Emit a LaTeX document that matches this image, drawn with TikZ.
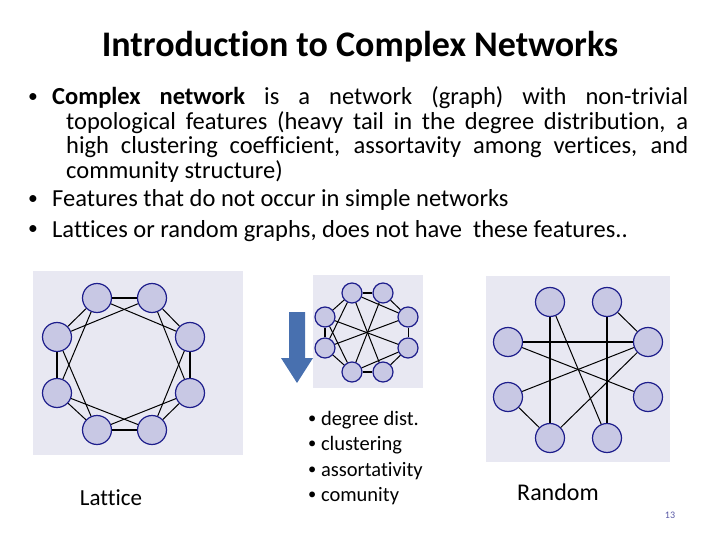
\documentclass[tikz,border=0pt]{standalone}
\usepackage{fontspec}
\setmainfont[Ligatures=NoCommon]{Carlito}
\definecolor{panel}{RGB}{232,232,242}
\definecolor{vfill}{RGB}{200,200,228}
\definecolor{vdraw}{RGB}{30,30,140}
\definecolor{arrowblue}{RGB}{72,112,175}
\tikzset{
    vtx/.style ={
        shape=circle,
        draw=vdraw,
        fill=vfill,
        line width=1.2pt,
        inner sep=0pt
    },
    big/.style ={vtx,minimum size=29pt},
    small/.style ={vtx,minimum size=20pt},
    thick edge/.style ={line width=2.2pt},
    thin edge/.style ={line width=1pt},
    body/.style ={font=\fontsize{24.5}{24.5}\selectfont,anchor=base west,inner sep=0pt}
}
\newcommand{\dotb}{\raisebox{0.1em}{\scalebox{0.8}{•}}}
\hyphenpenalty=10000
\exhyphenpenalty=10000
\begin{document}
\begin{tikzpicture}[x=1pt,y=-1pt]
    \useasboundingbox (0,0) rectangle (720,540);
    % title and bullets
    \node[font=\bfseries\fontsize{36}{40}\selectfont] (title) at (360,47) {Introduction to Complex Networks};
    \node[body] (b1) at (28,105) {\dotb};
    \node[body,text width=622pt,align=justify] (t1) at (66,105) {\hspace*{-14pt}\textbf{Complex network} is a network (graph) with non-trivial topological features (heavy tail in the degree distribution, a high clustering coefficient, assortavity among vertices, and community structure)};
    \node[body] (b2) at (28,207) {\dotb};
    \node[body] (t2) at (52,207) {Features that do not occur in simple networks};
    \node[body] (b3) at (28,237) {\dotb};
    \node[body] (t3) at (52,237) {Lattices or random graphs, does not have\ \ these features..};
    % panels
    \fill[panel] (33,271) rectangle (243,455);
    \fill[panel] (313,275) rectangle (423,388);
    \fill[panel] (486,276) rectangle (670,462);
    % lattice
    \node[big] (l1) at (97,298) {};
    \node[big] (l2) at (152,298) {};
    \node[big] (l3) at (190,337) {};
    \node[big] (l4) at (190,393) {};
    \node[big] (l5) at (152,430) {};
    \node[big] (l6) at (97,430) {};
    \node[big] (l7) at (57,393) {};
    \node[big] (l8) at (57,337) {};
    \foreach \a/\b in {1/2,3/4,5/6,7/8}
        \draw[thick edge] (l\a) -- (l\b);
    \foreach \a/\b in {2/3,4/5,6/7,8/1,1/3,2/4,3/5,4/6,5/7,6/8,7/1,8/2}
        \draw[thin edge] (l\a) -- (l\b);
    % small graph
    \node[small] (s1) at (352,293) {};
    \node[small] (s2) at (383,293) {};
    \node[small] (s3) at (408,317) {};
    \node[small] (s4) at (408,348) {};
    \node[small] (s5) at (383,372) {};
    \node[small] (s6) at (352,372) {};
    \node[small] (s7) at (325,348) {};
    \node[small] (s8) at (325,317) {};
    \foreach \a/\b in {1/2,5/6,7/8}
        \draw[thick edge] (s\a) -- (s\b);
    \foreach \a/\b in {2/3,3/4,4/5,6/7,8/1,1/3,1/5,2/6,8/4,7/3,8/6,4/6,1/7}
        \draw[thin edge] (s\a) -- (s\b);
    % arrow
    \fill[arrowblue] (289,312) -- (305,312) -- (305,358) -- (313,358) -- (297,383) -- (281,358) -- (289,358) -- cycle;
    % random
    \node[big] (r1) at (550,302) {};
    \node[big] (r2) at (607,302) {};
    \node[big] (r3) at (648,342) {};
    \node[big] (r4) at (648,397) {};
    \node[big] (r5) at (607,438) {};
    \node[big] (r6) at (550,438) {};
    \node[big] (r7) at (508,397) {};
    \node[big] (r8) at (508,342) {};
    \foreach \a/\b in {1/6,2/5,8/3}
        \draw[thick edge] (r\a) -- (r\b);
    \foreach \a/\b in {2/3,1/5,8/4,7/3,6/3,7/6}
        \draw[thin edge] (r\a) -- (r\b);
    % labels
    \node[font=\fontsize{23}{26}\selectfont] (lattice) at (111,498) {Lattice};
    \node[font=\fontsize{24}{26}\selectfont] (random) at (558,492) {Random};
    \node[font=\fontsize{20.5}{25.5}\selectfont,align=left,anchor=north west,inner sep=0pt] (props) at (308,411) {\dotb\ degree dist.\\\dotb\ clustering\\\dotb\ assortativity\\\dotb\ comunity};
    \node[font=\fontsize{10}{12}\selectfont,text=gray!70!blue] (page) at (670,515) {13};
\end{tikzpicture}
\end{document}
